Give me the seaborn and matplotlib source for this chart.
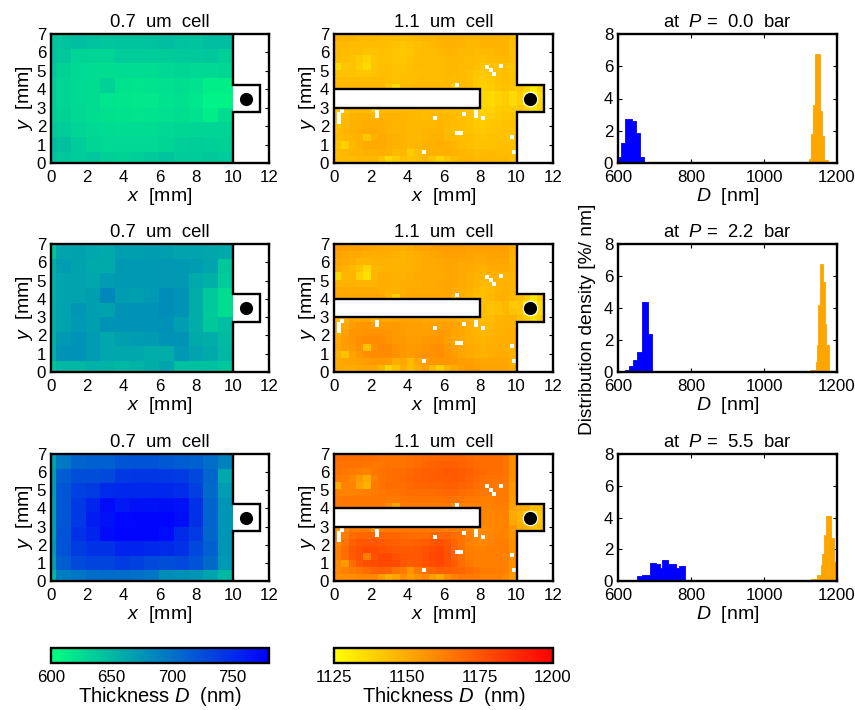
import numpy as np
import pandas as pd
import matplotlib
matplotlib.use("Agg")
import matplotlib.pyplot as plt
from matplotlib.cm import ScalarMappable
from matplotlib.colors import Normalize
from matplotlib.patches import Rectangle
import seaborn as sns

N = np.nan

# ---- 0.7 um cell thickness, nm (rows top to bottom) ----
THIN_P00 = [
    [642, 642, 645, 643, 641, 642, 642, 643, 645, 643, 642, 646, 645],
    [642, 640, 630, 630, 630, 636, 636, 636, 636, 638, 638, 640, 634],
    [638, 632, 627, 625, 624, 625, 625, 625, 627, 629, 627, 627, 629],
    [634, 630, 627, 624, 632, 620, 619, 620, 622, 624, 620, 612, 612],
    [634, 630, 627, 624, 619, 618, 617, 617, 620, 622, 618, 609, 608],
    [634, 632, 628, 624, 622, 620, 619, 620, 622, 624, 620, 612, 624],
    [638, 636, 630, 628, 626, 625, 625, 625, 627, 629, 630, 630, 630],
    [645, 644, 636, 630, 627, 627, 627, 627, 630, 634, 635, 634, 632],
    [642, 640, 637, 640, 634, 632, 634, 638, 642, 637, 637, 639, 637],
]
THIN_P22 = [
    [642, 664, 666, 662, 660, 668, 668, 669, 668, 664, 665, 663, 660],
    [656, 670, 666, 660, 660, 672, 672, 672, 673, 672, 670, 665, 640],
    [655, 665, 665, 662, 670, 672, 672, 672, 673, 672, 660, 656, 637],
    [655, 665, 665, 668, 684, 670, 668, 672, 680, 676, 658, 638, 624],
    [656, 666, 674, 668, 666, 676, 676, 676, 680, 676, 658, 638, 624],
    [656, 666, 672, 668, 676, 676, 676, 676, 678, 668, 658, 640, 645],
    [656, 672, 676, 670, 662, 668, 670, 671, 676, 676, 660, 658, 648],
    [656, 676, 676, 670, 662, 662, 662, 658, 658, 672, 665, 660, 650],
    [642, 650, 650, 655, 653, 650, 653, 657, 664, 644, 644, 644, 640],
]
THIN_P55 = [
    [665, 695, 710, 712, 712, 720, 722, 722, 718, 715, 712, 702, 688],
    [670, 715, 725, 725, 728, 740, 742, 742, 740, 738, 730, 708, 662],
    [670, 720, 735, 738, 750, 752, 752, 752, 752, 748, 735, 705, 670],
    [668, 720, 740, 755, 772, 762, 768, 768, 770, 768, 745, 710, 675],
    [668, 720, 740, 760, 768, 775, 776, 776, 776, 770, 745, 710, 675],
    [668, 722, 745, 755, 772, 776, 776, 776, 772, 750, 738, 708, 675],
    [672, 722, 738, 745, 745, 755, 755, 752, 750, 745, 730, 712, 675],
    [668, 715, 728, 732, 732, 738, 735, 728, 725, 728, 722, 705, 672],
    [650, 692, 697, 702, 704, 702, 700, 697, 680, 678, 675, 665, 650],
]

# ---- 1.1 um cell thickness, nm above each panel's base (rows top to bottom) ----
THICK_BASES = [1098, 1101, 1108]
POCKET_BASE = 1100
THICK_P00 = [
    [50,49,49,48,48,48,47,47,47,46,47,48,49,49,50,50,50,50,49,49,50,50,50,50,47],
    [48,48,47,47,47,46,47,46,45,44,45,46,47,48,49,50,50,49,48,48,49,49,49,49,46],
    [48,47,46,46,45,45,46,45,44,43,44,46,47,47,48,49,49,48,48,47,48,48,49,49,46],
    [47,46,45,43,40,44,45,45,44,44,45,46,47,47,47,48,48,48,47,46,46,47,48,48,46],
    [38,44,45,42,38,44,46,46,45,45,46,47,47,47,47,48,48,47,47,46,44,45,45,46,44],
    [45,45,45,44,44,45,46,46,45,45,46,46,47,47,47,48,48,47,46,44,43,44,45,46,44],
    [47,47,47,47,47,47,47,46,45,46,46,47,47,47,47,48,47,47,46,43,42,43,45,46,45],
    [48,48,48,48,48,48,48,44,37,47,48,48,48,48,48,48,42,47,46,43,41,42,44,45,44],
    [N,N,N,N,N,N,N,N,N,N,N,N,N,N,N,N,N,N,N,N,39,38,40,42,38],
    [N,N,N,N,N,N,N,N,N,N,N,N,N,N,N,N,N,N,N,N,39,38,40,42,38],
    [44,46,47,47,47,42,47,48,48,48,48,48,47,47,47,46,46,45,44,42,40,40,42,43,43],
    [46,47,49,50,50,49,50,50,50,49,48,48,47,48,48,48,47,46,45,42,41,42,43,44,44],
    [45,48,50,50,51,51,51,50,49,49,48,48,48,48,49,48,47,46,45,43,42,43,44,45,45],
    [46,49,50,51,52,52,51,50,49,49,48,48,49,49,49,47,46,46,45,44,43,44,45,45,45],
    [47,48,49,50,44,50,52,51,50,49,48,48,49,50,50,48,47,46,46,45,44,45,45,45,44],
    [45,41,48,50,52,52,52,51,50,49,48,49,50,50,51,50,49,47,46,45,45,45,46,46,45],
    [47,48,49,49,50,50,51,50,47,48,42,46,49,50,50,50,50,49,48,47,47,47,47,47,46],
    [47,47,47,48,48,48,45,38,42,46,44,46,48,44,40,44,47,48,49,48,48,48,48,48,46],
]
THICK_P22 = [
    [53,52,52,52,51,50,49,49,49,48,49,51,51,52,52,53,53,53,52,52,52,52,52,52,48],
    [51,50,49,49,48,48,48,48,47,46,47,48,49,50,51,52,52,52,51,50,50,51,51,51,48],
    [50,49,48,46,46,47,47,47,46,46,47,48,49,49,50,51,51,50,50,49,49,50,50,50,47],
    [49,47,45,42,36,45,46,47,46,47,47,48,49,49,49,50,50,49,49,48,47,48,49,49,47],
    [36,46,46,38,33,46,48,48,47,47,48,49,49,49,49,50,50,49,48,47,46,47,47,47,46],
    [47,47,47,46,46,47,48,48,47,48,48,48,49,49,50,50,50,49,48,46,45,45,47,47,46],
    [49,49,49,49,49,49,48,47,47,48,49,49,49,49,49,50,49,48,47,45,43,44,46,47,46],
    [50,50,50,50,50,50,50,46,38,49,50,50,50,50,50,50,45,48,46,44,43,45,47,47,45],
    [N,N,N,N,N,N,N,N,N,N,N,N,N,N,N,N,N,N,N,N,43,42,43,45,40],
    [N,N,N,N,N,N,N,N,N,N,N,N,N,N,N,N,N,N,N,N,43,42,43,45,42],
    [46,48,50,50,50,46,50,50,51,51,51,51,50,50,50,49,49,48,47,46,44,44,46,47,47],
    [48,50,53,55,55,53,54,54,54,53,52,52,51,52,52,52,51,50,48,46,45,45,46,47,47],
    [48,52,55,55,56,56,56,55,54,53,52,52,52,53,54,53,51,50,48,46,45,46,47,48,48],
    [49,53,55,57,58,58,57,56,54,54,53,53,54,55,55,52,50,49,48,47,46,47,48,48,48],
    [50,52,54,56,42,56,59,58,56,55,54,54,55,57,57,54,52,50,49,48,47,48,48,48,47],
    [47,42,51,54,57,58,58,58,56,54,53,55,56,56,57,55,53,50,49,48,47,48,49,49,47],
    [49,50,51,52,53,54,54,53,48,50,44,50,53,55,55,55,54,53,52,51,50,50,50,50,48],
    [49,49,49,50,50,50,46,36,42,48,44,48,52,44,38,46,50,52,53,52,51,51,51,51,48],
]
THICK_P55 = [
    [60,60,60,60,60,59,58,58,58,58,59,60,61,61,62,62,62,62,61,60,60,60,60,58,50],
    [59,58,58,58,57,57,57,58,58,58,59,60,62,63,64,64,64,63,62,61,60,60,60,58,50],
    [58,57,56,55,54,57,58,59,60,60,61,63,64,64,65,66,66,65,64,62,61,60,60,58,50],
    [56,55,52,47,42,54,58,59,60,61,62,63,64,64,65,65,66,65,63,61,59,58,58,57,50],
    [42,54,53,45,40,56,58,60,60,60,61,62,62,63,63,64,64,63,62,60,58,58,56,56,48],
    [54,54,54,54,55,56,57,58,58,59,60,60,60,60,61,62,62,60,59,58,57,56,56,56,48],
    [56,57,57,57,57,57,57,56,56,57,58,58,58,58,58,59,58,57,56,56,55,55,56,56,47],
    [56,56,56,56,56,56,56,52,44,56,56,56,56,56,56,56,50,54,54,54,54,54,55,55,45],
    [N,N,N,N,N,N,N,N,N,N,N,N,N,N,N,N,N,N,N,N,53,53,54,54,42],
    [N,N,N,N,N,N,N,N,N,N,N,N,N,N,N,N,N,N,N,N,53,52,53,54,43],
    [48,52,55,55,55,48,55,56,56,56,56,56,56,56,56,55,54,54,52,50,51,52,53,54,48],
    [52,56,60,62,62,62,62,62,62,61,60,60,60,62,62,62,60,58,55,52,52,53,54,54,48],
    [52,58,64,66,66,66,66,65,64,63,63,64,65,66,68,66,62,58,54,52,52,54,55,55,50],
    [54,60,66,68,70,70,68,67,66,65,65,66,68,70,71,67,62,58,55,54,54,55,55,55,50],
    [54,60,65,68,55,68,71,71,68,67,66,66,68,71,72,68,63,59,56,55,55,55,55,54,50],
    [52,47,60,66,69,70,71,71,70,66,65,66,68,70,71,68,65,60,57,55,55,55,55,54,50],
    [52,54,56,58,60,63,64,63,58,56,48,56,60,62,64,64,63,62,60,58,56,56,55,54,48],
    [50,50,50,52,52,52,46,40,44,50,46,50,52,46,42,50,54,56,56,56,54,54,54,52,46],
]
POCKET_P00 = [[42,38,30,38],[40,30,25,35],[40,30,25,36],[42,38,32,38]]
POCKET_P22 = [[44,40,32,40],[42,32,26,36],[42,32,26,36],[44,40,34,40]]
POCKET_P55 = [[50,50,44,46],[47,40,32,42],[47,40,32,42],[50,48,42,44]]

# unmeasured pixels of the 1.1 um map, mm
DEAD_X = [8.37,8.59,8.77,9.16,6.73,2.33,2.33,0.25,0.25,0.25,0.45,5.52,7.14,7.76,7.76,8.17,6.73,6.95,4.92,9.74,9.89]
DEAD_Y = [5.22,5.02,4.82,5.24,4.21,2.55,2.75,2.25,2.45,2.65,2.80,2.42,2.64,2.55,2.75,2.42,1.61,1.61,0.60,1.41,0.60]

# ---- distribution density, %/nm ----
BLUE_EDGES = [
    [603,607,618,638,649,659,670,784],
    [600,620,630,641,653,664.5,681,692,784],
    [653,664.5,687,703,715,721,737,759,766,783],
]
BLUE_VALUES = [
    [0.4,1.25,2.75,2.6,1.85,0.35,0.02],
    [0.02,0.1,0.35,0.75,1.25,4.4,2.4,0.02],
    [0.3,0.4,1.15,1.05,0.85,1.35,1.1,0.85,0.95],
]
ORANGE_EDGES = [
    [1123.5,1130,1134.6,1140,1154,1158.5,1165,1175,1200],
    [1125,1142,1145.6,1148.5,1153,1162,1166.5,1171,1177,1200],
    [1130,1145,1155,1160,1164.5,1170,1184,1191,1199],
]
ORANGE_VALUES = [
    [0.25,1.8,3.6,6.75,3.2,1.7,0.2,0.02],
    [0.15,0.6,1.7,4.2,6.75,5.6,3.0,1.7,0.05],
    [0.15,0.35,1.0,1.7,2.9,4.1,2.7,1.2],
]
PRESSURES = ["0.0", "2.2", "5.5"]

CBAR_THIN_TICKS = [600, 650, 700, 750]
CBAR_THICK_TICKS = [1125, 1150, 1175, 1200]

# ---- style ----
W, H = 855, 710
TICK = 12.2
LABEL = 14
TITLE = 13.3
BLACK = "#000000"
sns.set_theme(style="ticks", rc={
    "axes.linewidth": 1.7,
    "axes.edgecolor": BLACK, "axes.labelcolor": BLACK, "text.color": BLACK,
    "xtick.color": BLACK, "ytick.color": BLACK,
    "xtick.direction": "in", "ytick.direction": "in",
    "xtick.top": True, "ytick.right": True,
    "xtick.major.size": 3, "ytick.major.size": 3,
    "xtick.major.width": 0.8, "ytick.major.width": 0.8,
    "xtick.major.pad": 5, "ytick.major.pad": 3.5,
    "xtick.labelsize": TICK, "ytick.labelsize": TICK,
    "axes.labelsize": LABEL, "axes.titlesize": TITLE,
    "axes.labelpad": 1, "axes.titlepad": 5,
    "mathtext.fontset": "custom",
    "mathtext.rm": "Liberation Sans",
    "mathtext.it": "Liberation Sans:italic",
})
plt.rcParams["font.family"] = ["Liberation Sans", "DejaVu Sans"]

fig = plt.figure(figsize=(W / 100, H / 100), dpi=100)


def box(x0, x1, y0, y1):
    return fig.add_axes([x0 / W, 1 - y1 / H, (x1 - x0) / W, (y1 - y0) / H])


def map_layer(ax, values, bounds, cmap, vmin, vmax):
    ins = ax.inset_axes(bounds, transform=ax.transData, zorder=1)
    sns.heatmap(pd.DataFrame(values), ax=ins, cmap=cmap, vmin=vmin, vmax=vmax,
                cbar=False, xticklabels=False, yticklabels=False)
    ins.set_axis_off()
    ins.collections[0].set_clip_path(ax.patch)


def cell_outline(ax, channel):
    px = [10, 10, 11.5, 11.5, 10, 10]
    py = [0, 2.75, 2.75, 4.25, 4.25, 7]
    ax.plot(px, py, color=BLACK, lw=1.7, zorder=6, solid_joinstyle="miter")
    if channel:
        ax.add_patch(Rectangle((0, 3), 8, 1, facecolor="white", edgecolor="none", zorder=5))
        ax.plot([0, 8, 8, 0], [4, 4, 3, 3], color=BLACK, lw=1.7, zorder=6, solid_joinstyle="miter")
    ax.scatter([10.75], [3.5], s=90, color=BLACK, linewidths=0, zorder=7)


def map_axes(ax, title):
    ax.set_xlim(0, 12)
    ax.set_ylim(0, 7)
    ax.set_xticks(range(0, 13, 2))
    ax.set_yticks(range(0, 8))
    ax.set_xlabel(r"$\mathit{x}$  [mm]")
    ax.set_ylabel(r"$\mathit{y}$  [mm]")
    ax.set_title(title)
    for s in ax.spines.values():
        s.set_zorder(8)


ROWS = [(34, 163), (244, 372), (454, 581)]
THIN = [THIN_P00, THIN_P22, THIN_P55]
THICK = [THICK_P00, THICK_P22, THICK_P55]
POCKET = [POCKET_P00, POCKET_P22, POCKET_P55]

for i, (y0, y1) in enumerate(ROWS):
    # 0.7 um
    ax = box(51, 269, y0, y1)
    map_layer(ax, THIN[i], [-0.53, -0.2, 10.53, 7.2], "winter_r", 600, 780)
    cell_outline(ax, False)
    map_axes(ax, "0.7  um  cell")

    # 1.1 um
    ax = box(334, 553, y0, y1)
    map_layer(ax, np.array(THICK[i]) + THICK_BASES[i], [0, 0, 10, 7], "autumn_r", 1125, 1200)
    map_layer(ax, np.array(POCKET[i]) + POCKET_BASE, [10, 2.75, 1.5, 1.5], "autumn_r", 1125, 1200)
    sns.scatterplot(x=DEAD_X, y=DEAD_Y, ax=ax, marker="s", s=8, color="white",
                    linewidth=0, zorder=4)
    ax.scatter([10.75], [3.5], s=125, color="white", linewidths=0, zorder=4)
    cell_outline(ax, True)
    map_axes(ax, "1.1  um  cell")

    # histogram
    ax = box(618, 837, y0, y1)
    for edges, vals, col in ((BLUE_EDGES[i], BLUE_VALUES[i], "#0000ff"),
                             (ORANGE_EDGES[i], ORANGE_VALUES[i], "#ffa500")):
        sns.histplot(x=edges[:-1], weights=vals, bins=edges, element="step", fill=True,
                     color=col, alpha=1, linewidth=0.6, ax=ax)
    ax.set_xlim(600, 1200)
    ax.set_ylim(0, 8)
    ax.set_xticks([600, 800, 1000, 1200])
    ax.set_yticks([0, 2, 4, 6, 8])
    ax.set_xlabel(r"$\mathit{D}$  [nm]")
    ax.set_ylabel("")
    ax.set_title(rf"at  $\mathit{{P}}$ =  {PRESSURES[i]}  bar")

fig.text(587 / W, 1 - 319 / H, "Distribution density [%/ nm]", rotation=90,
         ha="center", va="center", fontsize=13.8)

# colour bars
for (x0, x1, cmap, lo, hi, ticks) in ((51, 269, "winter_r", 600, 780, CBAR_THIN_TICKS),
                                      (334, 553, "autumn_r", 1125, 1200, CBAR_THICK_TICKS)):
    cax = box(x0, x1, 648, 663)
    cb = fig.colorbar(ScalarMappable(Normalize(lo, hi), cmap), cax=cax, orientation="horizontal")
    cb.set_ticks(ticks)
    cb.outline.set_linewidth(1.7)
    cax.tick_params(direction="in", top=True, bottom=True, length=3, width=0.8, labelsize=TICK)
    cb.set_label(r"Thickness $\mathit{D}$  (nm)", fontsize=14.5, labelpad=0)

fig.savefig("out.png", dpi=100)
